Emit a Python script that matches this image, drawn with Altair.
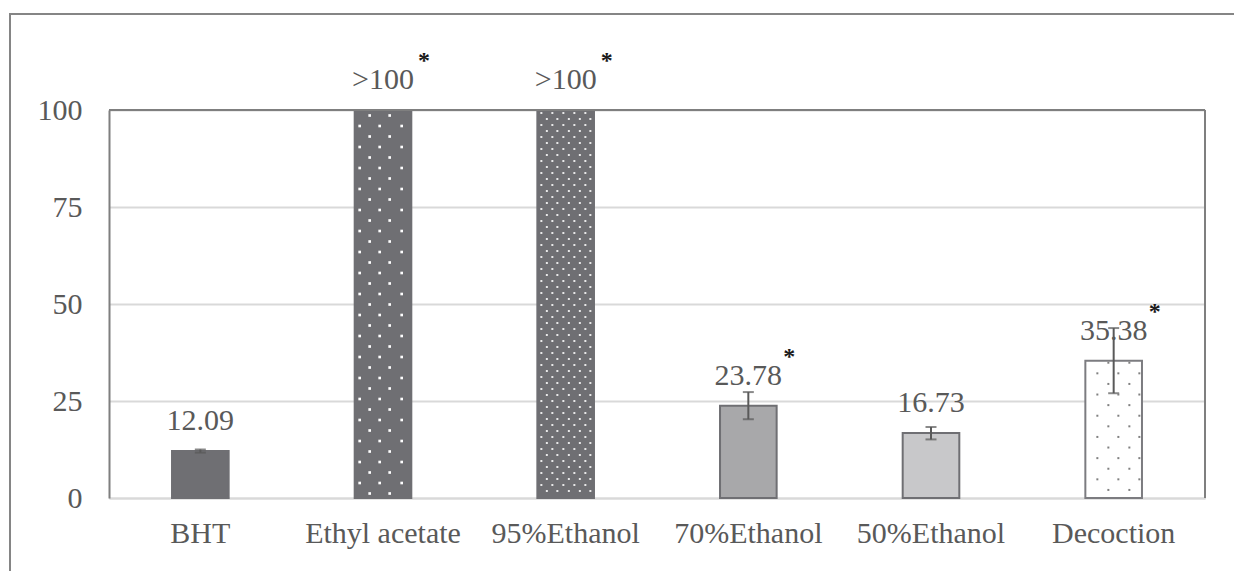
import altair as alt
import pandas as pd

# ---- data ----
categories = ["BHT", "Ethyl acetate", "95%Ethanol", "70%Ethanol", "50%Ethanol", "Decoction"]
values = [12.09, 100, 100, 23.78, 16.73, 35.38]          # >100 bars are drawn to the axis top
labels = ["12.09", ">100", ">100", "23.78", "16.73", "35.38"]
err_low = [11.7, None, None, 20.3, 15.1, 27.0]
err_high = [12.5, None, None, 27.3, 18.3, 43.8]
signif = [False, True, True, True, False, True]
y_ticks = [0, 25, 50, 75, 100]

# ---- styles ----
fills = ["#6f6f73", "#6f6f73", "#6f6f73", "#a8a8aa", "#c8c8ca", "#ffffff"]
strokes = ["#6f6f73", "#6f6f73", "#6f6f73", "#6f6f73", "#6f6f73", "#7c7c80"]
FONT = "Liberation Serif"
TXT = "#595959"
W, H = 1096, 388
P_INNER = 0.69

df = pd.DataFrame({"cat": categories, "value": values, "label": labels,
                   "lo": err_low, "hi": err_high, "sig": signif})

# dot textures (decorative fill pattern); spacing in pixels, x as fraction of bar width
step_px = W / len(categories)
bar_px = step_px * (1 - P_INNER)
upx = 100 / H
textures = [
    ("Ethyl acetate", dict(row=10.5, first=5.5, a=[15, 35], b=[5, 25, 47], color="#ffffff", size=7)),
    ("95%Ethanol", dict(row=6.0, first=3.0, a=[4, 15, 26, 37, 48], b=[9.5, 20, 31.5, 42.5, 53], color="#e8e8e8", size=4)),
    ("Decoction", dict(row=10.6, first=2.0, a=[23, 44], b=[12, 33, 54], color="#808080", size=4)),
]
tex_layers = []
for cat, t in textures:
    idx = categories.index(cat)
    top = values[idx]
    rows = []
    i = 0
    while True:
        yv = top - (t["first"] + i * t["row"]) * upx
        if yv < 1.0:
            break
        for o in (t["a"] if i % 2 == 0 else t["b"]):
            rows.append({"pos": idx + P_INNER / 2 + (o / bar_px) * (1 - P_INNER), "y": yv})
        i += 1
    tex_layers.append(
        alt.Chart(pd.DataFrame(rows)).mark_square(size=t["size"], opacity=1, color=t["color"]).encode(
            x=alt.X("pos:Q", scale=alt.Scale(domain=[0, len(categories)], nice=False, zero=False), axis=None),
            y=alt.Y("y:Q", scale=alt.Scale(domain=[0, 100], nice=False), axis=None),
        )
    )

X = alt.X("cat:N", sort=categories)
xenc = alt.X("cat:N", sort=categories,
             scale=alt.Scale(type="band", paddingInner=P_INNER, paddingOuter=P_INNER / 2),
             axis=alt.Axis(title=None, labelAngle=0, labelFont=FONT, labelFontSize=30,
                           labelColor=TXT, labelPadding=20, ticks=False,
                           domainColor="#d9d9d9", domainWidth=2, labelBaseline="top"))
yenc = alt.Y("value:Q", scale=alt.Scale(domain=[0, 100], nice=False, clamp=True),
             axis=alt.Axis(title=None, values=y_ticks, labelFont=FONT, labelFontSize=30,
                           labelColor=TXT, labelPadding=27, ticks=False,
                           gridColor="#d9d9d9", gridWidth=2,
                           domainColor="#7f7f7f", domainWidth=2))

base = alt.Chart(df)

bars = base.mark_bar(strokeWidth=2).encode(
    x=xenc,
    y=yenc,
    fill=alt.Fill("cat:N", scale=alt.Scale(domain=categories, range=fills), legend=None),
    stroke=alt.Stroke("cat:N", scale=alt.Scale(domain=categories, range=strokes), legend=None),
)

err_df = base.transform_filter("isValid(datum.lo)")
err_rule = err_df.mark_rule(color="#595959", strokeWidth=2).encode(x=X, y="lo:Q", y2="hi:Q")
err_lo = err_df.mark_tick(color="#595959", thickness=2, size=11, orient="horizontal").encode(x=X, y="lo:Q")
err_hi = err_df.mark_tick(color="#595959", thickness=2, size=11, orient="horizontal").encode(x=X, y="hi:Q")

val_text = base.mark_text(font=FONT, fontSize=30, color=TXT, baseline="bottom", dy=-15).encode(
    x=X, y="value:Q", text="label:N")

star_text = base.transform_filter("datum.sig").mark_text(
    font=FONT, fontSize=24, fontWeight="bold", color="#1a1a1a",
    baseline="alphabetic", dx=41, dy=-42).encode(x=X, y="value:Q", text=alt.value("*"))

top_rule = alt.Chart(df).mark_rule(color="#7f7f7f", strokeWidth=2).encode(
    x=alt.value(0), x2=alt.value(W), y=alt.value(0))
right_rule = alt.Chart(df).mark_rule(color="#7f7f7f", strokeWidth=2).encode(
    x=alt.value(W), y=alt.value(0), y2=alt.value(H))
frame = alt.Chart(df).mark_rect(fill="transparent", stroke="#858585", strokeWidth=2).encode(
    x=alt.value(-99), x2=alt.value(1160), y=alt.value(-96), y2=alt.value(500))

main = alt.layer(frame, bars, err_rule, err_lo, err_hi, val_text, star_text, top_rule, right_rule)
dots = alt.layer(*tex_layers)

chart = alt.layer(main, dots).resolve_scale(x="independent", y="independent").properties(
    width=W, height=H,
    autosize=alt.AutoSizeParams(type="none"),
    padding={"left": 101, "top": 102, "right": 29, "bottom": 73},
).configure_view(stroke=None).configure(background="white")

chart.save("out.html", embed_options={"renderer": "svg", "actions": False})
